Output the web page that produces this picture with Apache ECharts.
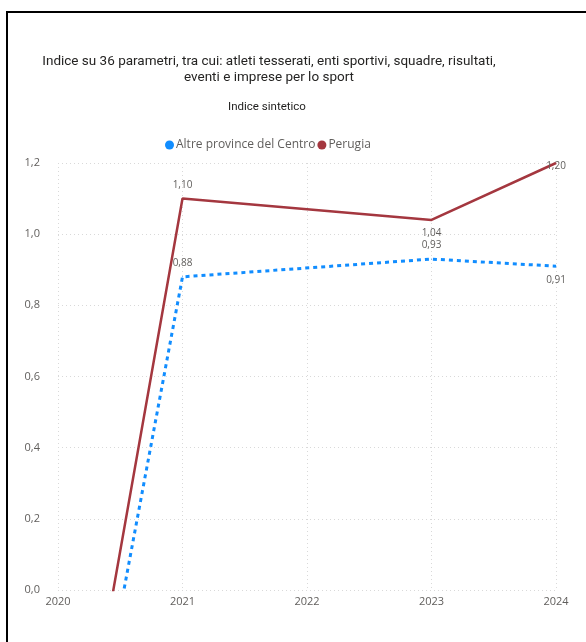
<!DOCTYPE html>
<html>
<head>
<meta charset="utf-8">
<script src="https://cdn.jsdelivr.net/npm/echarts@6/dist/echarts.min.js"></script>
<style>
  html, body { margin: 0; padding: 0; background: #fff; }
  #chart { width: 586px; height: 642px; }
  #frame { position: absolute; left: 6px; top: 11px; width: 700px; height: 700px;
           border-left: 2px solid #000; border-top: 2px solid #000; pointer-events: none; }
</style>
</head>
<body>
<div id="chart"></div>
<div id="frame"></div>
<script>
// anni e valori dell'indice sintetico (2022 mancante)
const years = [2020, 2021, 2023, 2024];
const altre = [-0.99, 0.88, 0.93, 0.91];
const perugia = [-0.88, 1.10, 1.04, 1.20];
const yTicks = [0, 0.2, 0.4, 0.6, 0.8, 1.0, 1.2];

const fmt = v => v.toFixed(2).replace('.', ',');
const grey = '#605E5C';

// posizioni delle etichette per punto
const altrePos = ['top', 'top', 'top', 'bottom'];
const perugiaPos = ['top', 'top', 'bottom', 'inside'];

const mk = (vals, pos) => vals.map((v, i) => ({
  value: [years[i], v],
  label: { show: v >= 0, position: pos[i], offset: pos[i] === 'inside' ? [0, 3] : [0, 0] }
}));

const chart = echarts.init(document.getElementById('chart'));
chart.setOption({
  animation: false,
  title: [{
    text: 'Indice su 36 parametri, tra cui: atleti tesserati, enti sportivi, squadre, risultati,\neventi e imprese per lo sport',
    left: 264, top: 49, textAlign: 'center',
    textStyle: { fontFamily: 'Roboto', fontSize: 13.5, fontWeight: 'normal', color: '#252423', lineHeight: 16 }
  }, {
    text: 'Indice sintetico',
    left: 262, top: 96, textAlign: 'center',
    textStyle: { fontFamily: 'Roboto', fontSize: 11.5, fontWeight: 'normal', color: '#1F1E1D' }
  }],
  legend: {
    top: 134, left: 160,
    icon: 'circle', itemWidth: 9, itemHeight: 9, itemGap: 2,
    textStyle: { fontFamily: 'Open Sans', fontSize: 12, color: grey, padding: [0, 0, 0, -3] },
    data: ['Altre province del Centro', 'Perugia']
  },
  grid: { left: 58, right: 30, top: 163, bottom: 52 },
  xAxis: {
    type: 'value', min: 2020, max: 2024, interval: 1,
    axisLine: { show: false }, axisTick: { show: false },
    axisLabel: { color: grey, fontFamily: 'Open Sans', fontSize: 11, margin: 6, formatter: v => String(v) },
    splitLine: { show: true, lineStyle: { color: '#D9D9D9', type: [1, 3] } }
  },
  yAxis: {
    type: 'value', min: 0, max: 1.2, interval: 0.2,
    axisLine: { show: false }, axisTick: { show: false },
    axisLabel: { color: grey, fontFamily: 'Open Sans', fontSize: 11, margin: 18,
                 customValues: yTicks, formatter: v => v.toFixed(1).replace('.', ',') },
    splitLine: { show: true, lineStyle: { color: '#D9D9D9', type: [1, 3] } }
  },
  series: [{
    name: 'Altre province del Centro', type: 'line', data: mk(altre, altrePos),
    symbol: 'circle', symbolSize: 1, showSymbol: true,
    clip: true, color: '#118DFF',
    lineStyle: { width: 3, type: [4, 4] },
    label: { show: true, color: grey, fontFamily: 'Open Sans', fontSize: 10, formatter: p => fmt(p.value[1]), distance: 8 }
  }, {
    name: 'Perugia', type: 'line', data: mk(perugia, perugiaPos),
    symbol: 'circle', symbolSize: 1, showSymbol: true,
    clip: true, color: '#A4373F',
    lineStyle: { width: 2.5 },
    label: { show: true, color: grey, fontFamily: 'Open Sans', fontSize: 10, formatter: p => fmt(p.value[1]), distance: 8 }
  }]
});
</script>
</body>
</html>
